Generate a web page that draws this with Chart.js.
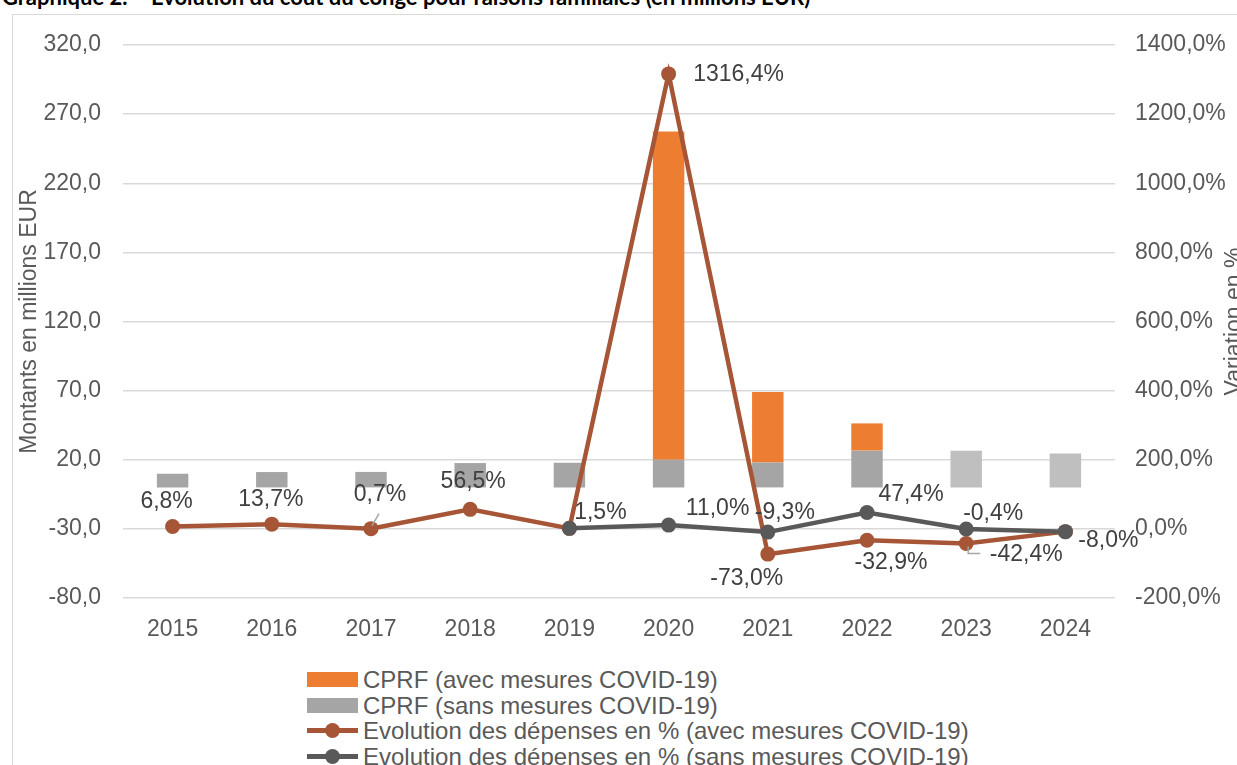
<!DOCTYPE html>
<html lang="fr">
<head>
<meta charset="utf-8">
<title>Evolution du coût du congé pour raisons familiales</title>
<script src="https://cdn.jsdelivr.net/npm/chart.js@4.4.1/dist/chart.umd.min.js"></script>
<style>
    body { margin: 0; width: 1237px; height: 765px; overflow: hidden; background: #fff; position: relative; font-family: "Liberation Sans", Arial, sans-serif; }
    #title { position: absolute; left: 2px; top: -17px; font: bold 22px Lato, sans-serif; color: #000; white-space: nowrap; }
    #frame { position: absolute; left: 12px; top: 14px; width: 1260px; height: 780px; border: 1.5px solid #d9d9d9; }
    #chart { position: absolute; left: 0; top: 0; }
    #legend { position: absolute; left: 307px; top: 667px; color: #595959; font-size: 24px; }
    .item { height: 25.5px; line-height: 25.5px; display: flex; align-items: center; white-space: nowrap; }
    .swatch { width: 51px; height: 15px; margin-right: 5px; position: relative; flex: none; }
    .swatch.line span { position: absolute; left: 0; right: 0; top: 5px; height: 5px; }
    .swatch.line i { position: absolute; left: 18px; top: 0; width: 15px; height: 15px; border-radius: 50%; }
</style>
</head>
<body>
<div id="title">Graphique 2. – Evolution du coût du congé pour raisons familiales (en millions EUR)</div>
<div id="frame"></div>
<canvas id="chart" width="1237" height="660"></canvas>
<div id="legend"></div>
<script>
// Data
const years = ['2015', '2016', '2017', '2018', '2019', '2020', '2021', '2022', '2023', '2024'];
const cprfSans = [9.9, 11.1, 11.2, 17.6, 17.9, 20.0, 18.0, 26.6, 26.5, 24.5];      // millions EUR
const cprfCovidPart = [null, null, null, null, null, 237.4, 51.0, 19.7, null, null]; // extra part with COVID measures
const evolAvec = [6.8, 13.7, 0.7, 56.5, 1.5, 1316.4, -73.0, -32.9, -42.4, -8.0];     // %
const evolSans = [null, null, null, null, 1.5, 11.0, -9.3, 47.4, -0.4, -8.0];       // %
const leftTicks = [-80, -30, 20, 70, 120, 170, 220, 270, 320];
const rightTicks = [-200, 0, 200, 400, 600, 800, 1000, 1200, 1400];

const orange = '#ed7d31';
const grayBar = '#a5a5a5';
const grayBarLight = '#bfbfbf';
const brown = '#a65536';
const darkGray = '#595959';
const textColor = '#404040';
const FONT = '"Liberation Sans", Arial, sans-serif';

const fmt = (v) => v.toFixed(1).replace('.', ',');

// Label placement (pixel offsets from the point), null = no label
const labelOffsets = {
    avec: [[-6, -25], [-1, -24], [9, -34], [3, -28], null, [70, 1], [-21, 25], [24, 22], [60, 11], null],
    sans: [null, null, null, null, [31, -16], [49, -16], [17, -19], [44, -18], [27, -15], [43, 9]]
};

// Custom plugin: percentage labels, leader lines and right axis title
const labelPlugin = {
    id: 'pctLabels',
    afterDatasetsDraw(chart) {
        const ctx = chart.ctx;
        ctx.save();
        ctx.font = `23px ${FONT}`;
        ctx.fillStyle = textColor;
        ctx.textAlign = 'center';
        ctx.textBaseline = 'middle';
        chart.data.datasets.forEach((ds, di) => {
            const offsets = labelOffsets[ds.labelKey];
            if (!offsets) return;
            const meta = chart.getDatasetMeta(di);
            meta.data.forEach((pt, i) => {
                const off = offsets[i];
                if (!off || ds.data[i] === null) return;
                ctx.fillText(fmt(ds.data[i]) + '%', pt.x + off[0], pt.y + off[1]);
            });
        });

        // leader lines (2017 and 2023 labels)
        const avec = chart.getDatasetMeta(2).data;
        ctx.strokeStyle = '#a6a6a6';
        ctx.lineWidth = 1.5;
        ctx.beginPath();
        ctx.moveTo(avec[2].x + 1, avec[2].y - 3);
        ctx.lineTo(avec[2].x + 8, avec[2].y - 15);
        ctx.moveTo(avec[8].x + 2, avec[8].y + 3);
        ctx.lineTo(avec[8].x + 2, avec[8].y + 10);
        ctx.lineTo(avec[8].x + 14, avec[8].y + 10);
        ctx.stroke();

        // right axis title, reading bottom to top
        const y1 = chart.scales.y1;
        ctx.fillStyle = darkGray;
        ctx.translate(1235, (y1.top + y1.bottom) / 2);
        ctx.rotate(-Math.PI / 2);
        ctx.fillText('Variation en %', 0, 0);
        ctx.restore();
    }
};

const chart = new Chart(document.getElementById('chart'), {
    type: 'bar',
    data: {
        labels: years,
        datasets: [
            {
                label: 'CPRF (sans mesures COVID-19)',
                data: cprfSans,
                backgroundColor: years.map((y, i) => i >= 8 ? grayBarLight : grayBar),
                legendColor: grayBar,
                yAxisID: 'y',
                order: 2,
                barPercentage: 0.317,
                categoryPercentage: 1.0
            },
            {
                label: 'CPRF (avec mesures COVID-19)',
                data: cprfCovidPart,
                backgroundColor: orange,
                legendColor: orange,
                yAxisID: 'y',
                order: 2,
                barPercentage: 0.317,
                categoryPercentage: 1.0
            },
            {
                type: 'line',
                label: 'Evolution des dépenses en % (avec mesures COVID-19)',
                labelKey: 'avec',
                data: evolAvec,
                borderColor: brown,
                backgroundColor: brown,
                legendColor: brown,
                borderWidth: 4.5,
                pointRadius: 7.5,
                pointBorderWidth: 0,
                yAxisID: 'y1',
                order: 1
            },
            {
                type: 'line',
                label: 'Evolution des dépenses en % (sans mesures COVID-19)',
                labelKey: 'sans',
                data: evolSans,
                borderColor: darkGray,
                backgroundColor: darkGray,
                legendColor: darkGray,
                borderWidth: 4.5,
                pointRadius: 7.5,
                pointBorderWidth: 0,
                yAxisID: 'y1',
                order: 0
            }
        ]
    },
    options: {
        responsive: false,
        animation: false,
        layout: { padding: { top: 45, left: 0, right: 0, bottom: 0 } },
        plugins: {
            legend: { display: false },
            tooltip: { enabled: false }
        },
        scales: {
            x: {
                stacked: true,
                grid: { display: false },
                border: { display: false },
                ticks: { color: darkGray, font: { family: FONT, size: 23 }, padding: 10 },
                afterFit: (scale) => { scale.height = 62; }
            },
            y: {
                position: 'left',
                stacked: true,
                min: -80,
                max: 320,
                afterBuildTicks: (scale) => { scale.ticks = leftTicks.map(v => ({ value: v })); },
                grid: { color: '#d9d9d9', lineWidth: 1.5, drawTicks: false },
                border: { display: false },
                ticks: {
                    color: darkGray,
                    font: { family: FONT, size: 23 },
                    padding: 22,
                    callback: (v) => fmt(v)
                },
                title: {
                    display: true,
                    text: 'Montants en millions EUR',
                    color: darkGray,
                    font: { family: FONT, size: 23 },
                    padding: { top: 16, bottom: 0 }
                },
                afterFit: (scale) => { scale.width = 123; }
            },
            y1: {
                position: 'right',
                min: -200,
                max: 1400,
                afterBuildTicks: (scale) => { scale.ticks = rightTicks.map(v => ({ value: v })); },
                grid: { drawOnChartArea: false, drawTicks: false },
                border: { display: false },
                ticks: {
                    color: darkGray,
                    font: { family: FONT, size: 23 },
                    padding: 20,
                    callback: (v) => fmt(v) + '%'
                },
                afterFit: (scale) => { scale.width = 122; }
            }
        }
    },
    plugins: [labelPlugin]
});

// HTML legend, same order as the reference
const buildLegend = () => {
    const legend = document.getElementById('legend');
    [1, 0, 2, 3].forEach(idx => {
        const ds = chart.data.datasets[idx];
        const item = document.createElement('div');
        item.className = 'item';
        const swatch = ds.type === 'line'
            ? `<div class="swatch line"><span style="background:${ds.legendColor}"></span><i style="background:${ds.legendColor}"></i></div>`
            : `<div class="swatch" style="background:${ds.legendColor}"></div>`;
        item.innerHTML = `${swatch}<div>${ds.label}</div>`;
        legend.appendChild(item);
    });
};

buildLegend();
</script>
</body>
</html>
